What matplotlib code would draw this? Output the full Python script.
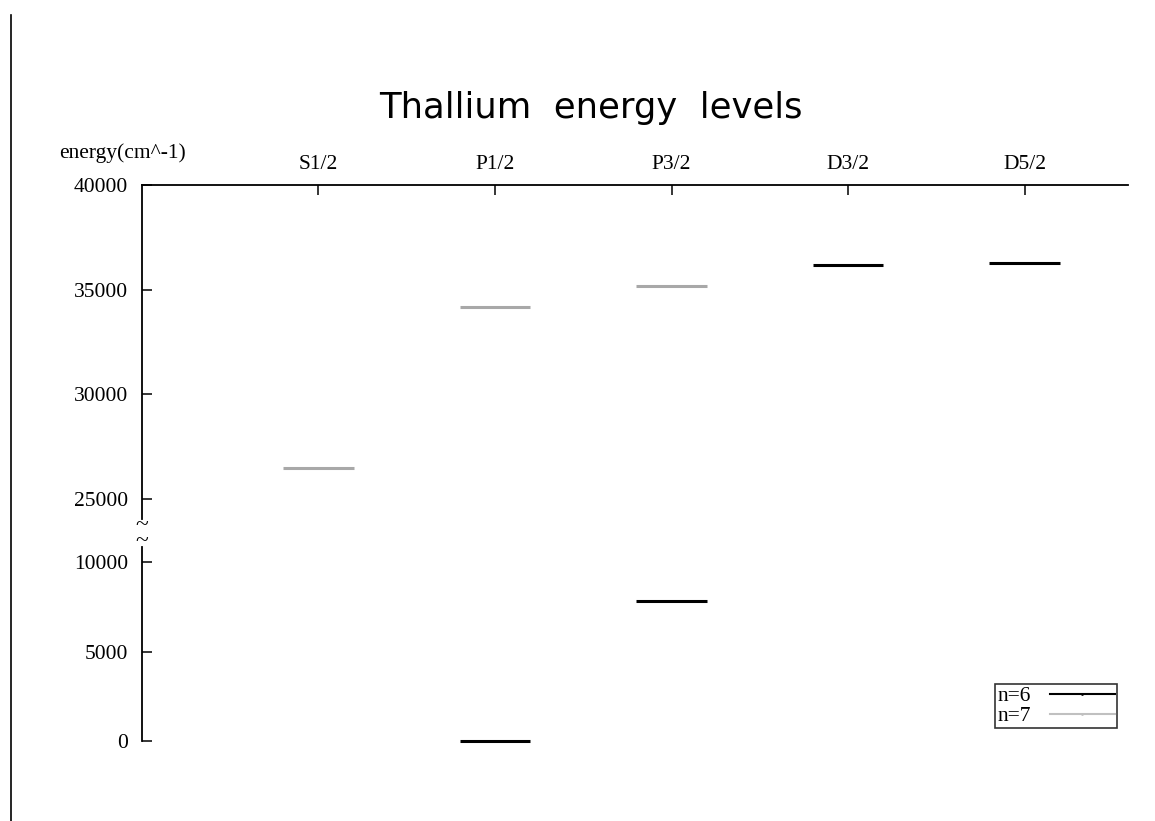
import matplotlib
matplotlib.use("Agg")
import matplotlib.pyplot as plt
from matplotlib.lines import Line2D

plt.rcParams['font.family'] = ['Liberation Serif', 'DejaVu Serif']

# term labels and level energies (cm^-1)
terms = ['S1/2', 'P1/2', 'P3/2', 'D3/2', 'D5/2']
n6_pos = [2, 3, 4, 5]
n6_energy = [0, 7800, 36170, 36250]
n7_pos = [1, 2, 3]
n7_energy = [26480, 34170, 35170]
yticks_top = [25000, 30000, 35000, 40000]
yticks_low = [0, 5000, 10000]

fig = plt.figure(figsize=(11.55, 8.21), dpi=100)

ax_top = fig.add_axes([0.1229, 0.3678, 0.8537, 0.4069])
ax_low = fig.add_axes([0.1229, 0.0974, 0.8537, 0.2363])
ax_top.set_ylim(24040, 40000)
ax_low.set_ylim(0, 10840)

half = 0.2
for ax in (ax_top, ax_low):
    lo, hi = ax.get_ylim()
    for pos, energy, col in ((n6_pos, n6_energy, 'black'), (n7_pos, n7_energy, '#a8a8a8')):
        for x, e in zip(pos, energy):
            if lo <= e <= hi:
                ax.plot([x - half, x, x + half], [e, e, e], color=col, lw=2.2,
                        marker='.', markevery=[1], ms=2, solid_capstyle='butt', clip_on=False)
    ax.set_xlim(0, 5.586)
    ax.spines['right'].set_visible(False)
    ax.spines['bottom'].set_visible(False)
    ax.spines['left'].set_linewidth(1.3)
    ax.spines['top'].set_linewidth(1.3)
    ax.tick_params(axis='y', direction='in', length=7, width=1.1, pad=10, labelsize=15.5)

ax_top.set_yticks(yticks_top)
ax_top.set_xticks(range(1, len(terms) + 1))
ax_top.set_xticklabels(terms)
ax_top.tick_params(axis='x', top=True, bottom=False, labeltop=True, labelbottom=False,
                   direction='in', length=7, width=1.1, pad=8, labelsize=15.5)

ax_low.set_yticks(yticks_low)
ax_low.spines['top'].set_visible(False)
ax_low.set_xticks([])

# axis break marks
fig.text(0.1229, 0.350, '~\n~', ha='center', va='center', fontsize=17, linespacing=0.7)

fig.text(0.1058, 0.814, 'energy(cm^-1)', ha='center', va='center', fontsize=15.5)
fig.text(0.512, 0.869, 'Thallium  energy  levels', ha='center', va='center',
         fontsize=25.5, family='DejaVu Sans')

handles = [Line2D([0], [0], color='black', lw=1.5, marker='.', ms=2, markevery=[1]),
           Line2D([0], [0], color='#c0c0c0', lw=1.5, marker='.', ms=2, markevery=[1])]
leg = ax_low.legend(handles, ['n=6', 'n=7'], loc='upper left',
                    bbox_to_anchor=(995 / 1155, 1 - 684 / 821), bbox_transform=fig.transFigure,
                    borderaxespad=0, borderpad=0.1, markerfirst=False, fancybox=False,
                    frameon=True, edgecolor='black', fontsize=15.5, handlelength=3.0,
                    handletextpad=0.9, labelspacing=0.0)
leg.get_frame().set_linewidth(1.2)

# page edge line on the left
fig.add_artist(Line2D([10.5 / 1155, 10.5 / 1155], [0, 1 - 15 / 821],
                      color='black', lw=1.2, transform=fig.transFigure))

fig.savefig('out.png', dpi=100)
